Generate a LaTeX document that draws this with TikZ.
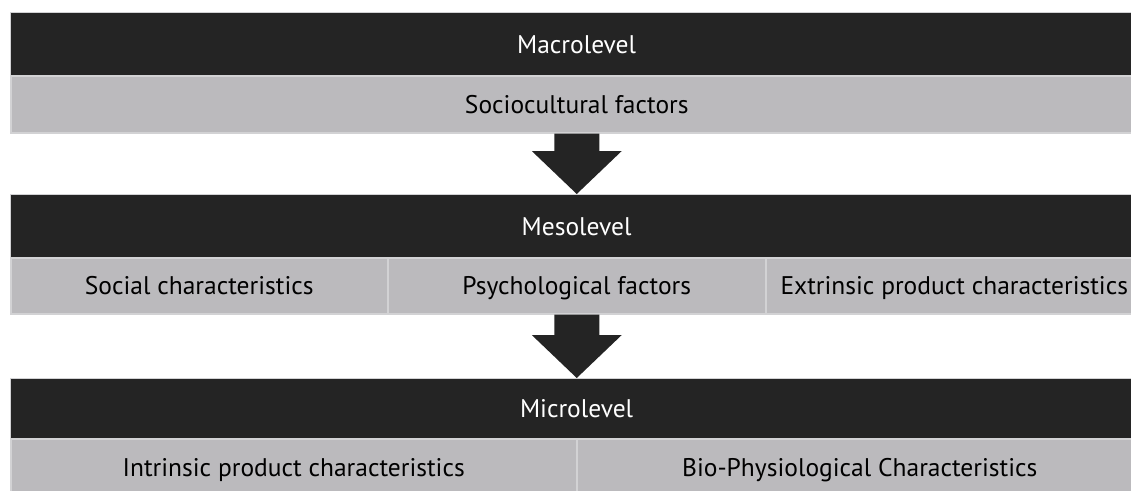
\documentclass[tikz,border=0pt]{standalone}
\usepackage{fontspec}
\setmainfont{PT Sans}
\usetikzlibrary{calc}
\definecolor{barblack}{HTML}{242424}
\definecolor{bargray}{HTML}{BBBABD}
\definecolor{edgeline}{HTML}{D2D2D4}
\begin{document}
\begin{tikzpicture}[x=1pt,y=-1pt,
  lvl/.style={fill=barblack, draw=edgeline, line width=1.2pt, text=white,
    font=\fontsize{25.5}{30}\selectfont, inner sep=0pt, anchor=north west,
    text height=17.9pt, text depth=0pt},
  cell/.style={fill=bargray, draw=edgeline, line width=1.5pt, text=black,
    font=\fontsize{25.5}{30}\selectfont, inner sep=0pt, anchor=north west,
    text height=17.9pt, text depth=0pt},
  blockarrow/.style={fill=barblack, draw=none}]
\useasboundingbox (0,0) rectangle (1131,490);
\clip (0,0) rectangle (1131,490);
% Macro level
\node[lvl, minimum width=1132pt, minimum height=63pt] (macro) at (10,12) {Macrolevel};
\node[cell, minimum width=1132pt, minimum height=57pt] (socio) at (10,75) {Sociocultural factors};
% Meso level
\node[lvl, minimum width=1132pt, minimum height=63pt] (meso) at (10,194) {Mesolevel};
\node[cell, minimum width=377pt, minimum height=56pt] (social) at (10,257) {Social characteristics};
\node[cell, minimum width=378pt, minimum height=56pt] (psych) at (387,257) {Psychological factors};
\node[cell, minimum width=377pt, minimum height=56pt] (extr) at (765,257) {Extrinsic product characteristics};
% Micro level
\node[lvl, minimum width=1132pt, minimum height=60pt] (micro) at (10,378) {Microlevel};
\node[cell, minimum width=566pt, minimum height=57pt] (intr) at (10,438) {Intrinsic product characteristics};
\node[cell, minimum width=566pt, minimum height=57pt] (bio) at (576,438) {Bio-Physiological Characteristics};
% Block arrows
\fill[blockarrow] let \p1=(socio.south), \p2=(meso.north) in
  (\x1-22.5pt,\y1) -- (\x1+22.5pt,\y1) -- (\x1+22.5pt,\y2+43pt) -- (\x1+45pt,\y2+43pt)
  -- (\x1,\y2) -- (\x1-45pt,\y2+43pt) -- (\x1-22.5pt,\y2+43pt) -- cycle;
\fill[blockarrow] let \p1=(psych.south), \p2=(micro.north) in
  (\x1-22.5pt,\y1) -- (\x1+22.5pt,\y1) -- (\x1+22.5pt,\y2+43pt) -- (\x1+45pt,\y2+43pt)
  -- (\x1,\y2) -- (\x1-45pt,\y2+43pt) -- (\x1-22.5pt,\y2+43pt) -- cycle;
\end{tikzpicture}
\end{document}
